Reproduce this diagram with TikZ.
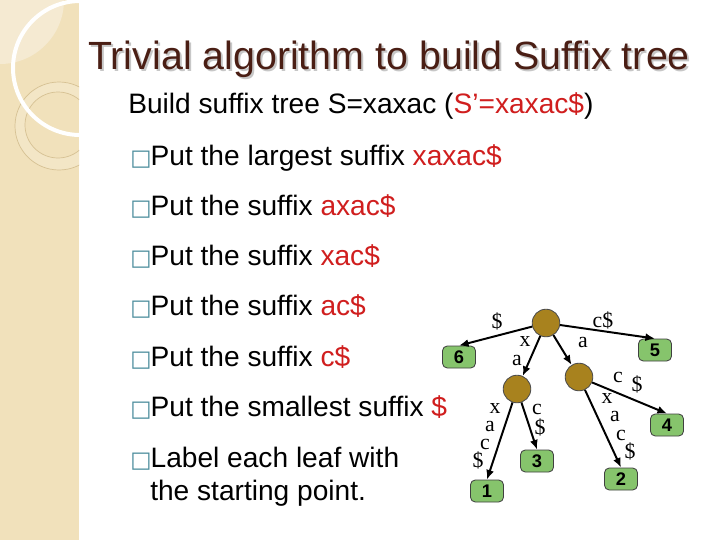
\documentclass[tikz,border=0pt]{standalone}
\usepackage{fontspec}
\setmainfont{Liberation Sans}
\newfontfamily\lblfont{Liberation Serif}
\newfontfamily\boxfont{DejaVu Sans}
\usepackage{xcolor}
\definecolor{mystrip}{HTML}{F1E1BB}
\definecolor{mylight}{HTML}{F5EAD2}
\definecolor{myring}{HTML}{D6C193}
\definecolor{mytitle}{HTML}{4A1E14}
\definecolor{myred}{HTML}{D01E1E}
\definecolor{myteal}{HTML}{4A8C9C}
\definecolor{mybrown}{HTML}{A8821E}
\definecolor{mygreen}{HTML}{86C46C}
\usepackage{tikz}
\usetikzlibrary{shapes,arrows,arrows.meta,positioning,calc}
\tikzstyle{inner} = [circle, draw=black!70, fill=mybrown, line width=0.6pt,
minimum size=6.9mm, inner sep=0pt]
\tikzstyle{leaf} = [rectangle, draw=black!75, fill=mygreen, rounded corners=1.2mm,
minimum width=8.25mm, minimum height=5.5mm, inner sep=0pt, line width=0.6pt,
font=\fontsize{13}{13}\selectfont\bfseries]
\tikzstyle{lbl} = [inner sep=0pt, anchor=base, font=\lblfont\fontsize{15.5}{15.5}\selectfont]
\tikzstyle{item} = [anchor=base west, inner sep=0pt, font=\fontsize{20}{24}\selectfont]
\tikzstyle{line} = [draw, -{Latex[length=2.4mm, width=2mm]}, line width=1.4pt]
\newcommand{\bx}{\makebox[14.5pt][l]{\boxfont\fontsize{16}{16}\selectfont\color{myteal}□}}
\newcommand{\hl}[1]{\textcolor{myred}{#1}}

\begin{document}
\begin{tikzpicture}[x=0.25mm, y=-0.25mm]
    % Background
    \fill[white] (0,0) rectangle (720,540);
    \fill[mystrip] (0,0) rectangle (79,540);
    \begin{scope}
        \clip (0,0) rectangle (79,540);
        \fill[mylight] (0,0) circle (64);
        \draw[myring, line width=0.5pt, fill=mylight!50!mystrip, even odd rule]
            (59,126) circle (44) (58,125) circle (33);
        \draw[white, line width=1mm] (80,68) circle (67);
    \end{scope}

    % Title
    \node[anchor=base west, inner sep=0pt, text=black!22,
          font=\fontsize{28}{30}\selectfont] (shadow) at (90,71)
          {Trivial algorithm to build Suffix tree};
    \node[anchor=base west, inner sep=0pt, text=mytitle,
          font=\fontsize{28}{30}\selectfont] (title) at (88,69)
          {Trivial algorithm to build Suffix tree};
    \node[item] (sub) at (128,113) {Build suffix tree S=xaxac (\hl{S’=xaxac\$})};

    % Steps
    \node[item] (put1) at (130,165) {\bx Put the largest suffix \hl{xaxac\$}};
    \node[item] (put2) at (130,215) {\bx Put the suffix \hl{axac\$}};
    \node[item] (put3) at (130,265) {\bx Put the suffix \hl{xac\$}};
    \node[item] (put4) at (130,315) {\bx Put the suffix \hl{ac\$}};
    \node[item] (put5) at (130,366) {\bx Put the suffix \hl{c\$}};
    \node[item] (put6) at (130,416) {\bx Put the smallest suffix \hl{\$}};
    \node[item] (put7) at (130,467) {\bx Label each leaf with};
    \node[item] (put7b) at (150,500) {the starting point.};

    % Tree
    \node[inner] (root) at (546,323) {};
    \node[inner] (ax) at (517,389) {};
    \node[inner] (ar) at (579,377) {};
    \node[leaf] (leaf6) at (459,357) {6};
    \node[leaf] (leaf5) at (655,350) {5};
    \node[leaf] (leaf1) at (487,491) {1};
    \node[leaf] (leaf3) at (537,461) {3};
    \node[leaf] (leaf2) at (621,479) {2};
    \node[leaf] (leaf4) at (667,425) {4};

    \path[line] (root) -- (leaf6.north);
    \path[line] (root) -- (leaf5.north);
    \path[line] (root) -- (ax);
    \path[line] (root) -- (ar);
    \path[line] (ax) -- (leaf1.north);
    \path[line] (ax) -- (leaf3.north);
    \path[line] (ar) -- (leaf2.north);
    \path[line] (ar) -- (leaf4.north);

    % Edge labels (base points)
    \node[lbl] (e6) at (497,328) {\$};
    \node[lbl] (e5) at (603,327) {c\$};
    \node[lbl] (eax1) at (525,346) {x};
    \node[lbl] (eax2) at (517,365) {a};
    \node[lbl] (ear) at (583,347) {a};
    \node[lbl] (e1a) at (495,413) {x};
    \node[lbl] (e1b) at (490,431) {a};
    \node[lbl] (e1c) at (485,449) {c};
    \node[lbl] (e1d) at (478,467) {\$};
    \node[lbl] (e3a) at (537,414) {c};
    \node[lbl] (e3b) at (540,434) {\$};
    \node[lbl] (e2a) at (607,403) {x};
    \node[lbl] (e2b) at (615,421) {a};
    \node[lbl] (e2c) at (621,440) {c};
    \node[lbl] (e2d) at (630,458) {\$};
    \node[lbl] (e4a) at (618,382) {c};
    \node[lbl] (e4b) at (637,391) {\$};
\end{tikzpicture}
\end{document}
